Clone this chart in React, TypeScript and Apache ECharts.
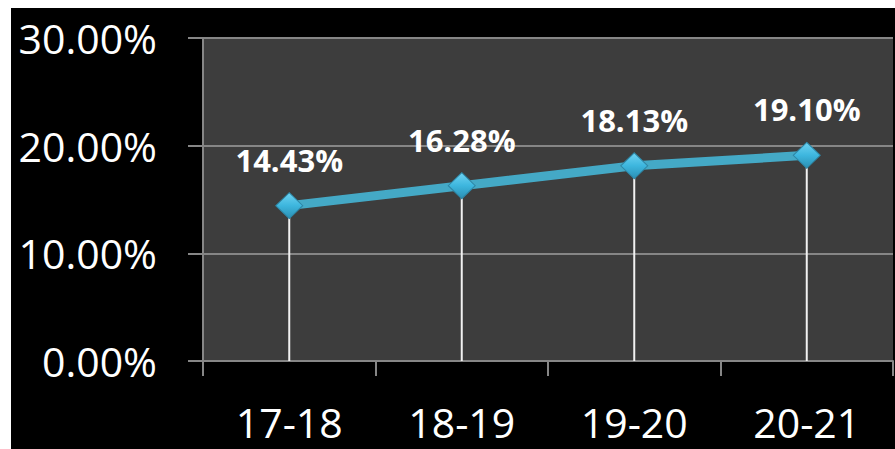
import React, { useEffect, useRef } from "react";
import * as echarts from "echarts";

const categories = ["17-18", "18-19", "19-20", "20-21"];
const values = [14.43, 16.28, 18.13, 19.1];
const yTicks = [0, 10, 20, 30];

export default function App() {
  const ref = useRef<HTMLDivElement>(null);
  useEffect(() => {
    if (!ref.current) return;
    const chart = echarts.init(ref.current, undefined, { renderer: "svg" });
    const font = "'Open Sans', sans-serif";
    chart.setOption({
      animation: false,
      backgroundColor: "#000000",
      grid: {
        left: 192,
        right: 2,
        top: 30,
        bottom: 88,
        show: true,
        backgroundColor: "#3d3d3d",
        borderWidth: 0,
      },
      xAxis: {
        type: "category",
        data: categories,
        boundaryGap: true,
        axisLine: { show: true, lineStyle: { color: "#868686", width: 2 } },
        axisTick: { show: true, length: 15, lineStyle: { color: "#868686", width: 2 } },
        axisLabel: { color: "#ffffff", fontSize: 41, fontFamily: font, margin: 40 },
        splitLine: { show: false },
      },
      yAxis: {
        type: "value",
        min: yTicks[0],
        max: yTicks[yTicks.length - 1],
        interval: 10,
        axisLine: { show: true, lineStyle: { color: "#868686", width: 2 } },
        axisTick: { show: true, length: 15, lineStyle: { color: "#868686", width: 2 } },
        axisLabel: {
          color: "#ffffff",
          fontSize: 41,
          fontFamily: font,
          margin: 46,
          formatter: (v: number) => v.toFixed(2) + "%",
        },
        splitLine: { show: true, lineStyle: { color: "#868686", width: 2 } },
      },
      series: [
        {
          type: "bar",
          data: values,
          barWidth: 2,
          itemStyle: { color: "#f2f2f2" },
          silent: true,
          z: 2,
        },
        {
          type: "line",
          data: values,
          z: 3,
          symbol: "diamond",
          symbolSize: [27, 26],
          lineStyle: { color: "#44a9c6", width: 9 },
          itemStyle: {
            color: new echarts.graphic.LinearGradient(0, 0, 0, 1, [
              { offset: 0, color: "#6fd3f2" },
              { offset: 0.5, color: "#3db6de" },
              { offset: 1, color: "#2a8fb3" },
            ]),
            borderColor: "#2e86a5",
            borderWidth: 1,
          },
          label: {
            show: true,
            position: "top",
            distance: 17,
            color: "#ffffff",
            fontSize: 31,
            fontWeight: "bold",
            fontFamily: font,
            formatter: (p: any) => Number(p.value).toFixed(2) + "%",
          },
        },
      ],
    });
    return () => chart.dispose();
  }, []);
  return (
    <div style={{ position: "absolute", left: 0, top: 0, width: 895, height: 449, background: "#ffffff" }}>
      <div ref={ref} style={{ position: "absolute", left: 11, top: 8, width: 884, height: 441 }} />
    </div>
  );
}
